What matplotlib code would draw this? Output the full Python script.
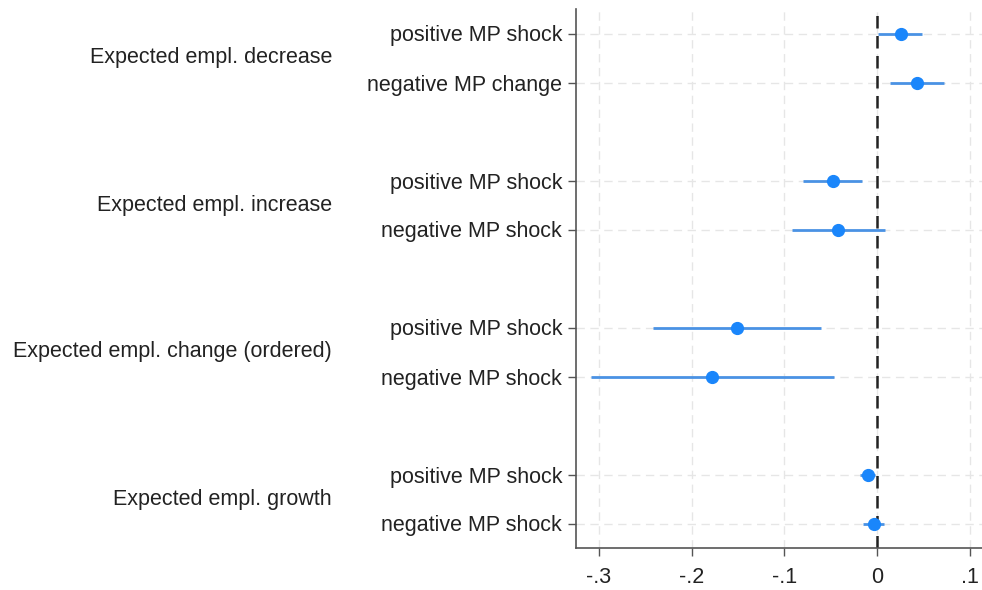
import numpy as np
import matplotlib.pyplot as plt
from matplotlib.transforms import blended_transform_factory

plt.rcParams["font.family"] = ["Liberation Sans", "DejaVu Sans"]

groups = ["Expected empl. decrease", "Expected empl. increase",
          "Expected empl. change (ordered)", "Expected empl. growth"]
row_labels = ["positive MP shock", "negative MP change",
              "positive MP shock", "negative MP shock",
              "positive MP shock", "negative MP shock",
              "positive MP shock", "negative MP shock"]
coef = [0.026, 0.043, -0.048, -0.042, -0.151, -0.178, -0.010, -0.0036]
ci_low = [0.0014, 0.014, -0.080, -0.092, -0.242, -0.309, -0.018, -0.0154]
ci_high = [0.049, 0.072, -0.016, 0.0086, -0.060, -0.046, -0.002, 0.0076]
xticks = [-0.3, -0.2, -0.1, 0, 0.1]
xticklabels = ["-.3", "-.2", "-.1", "0", ".1"]

# two rows per group, one empty row between groups
ypos = np.array([g * 3 + k for g in range(4) for k in range(2)])
group_y = [g * 3 + 0.5 for g in range(4)]

W, H = 982, 590
fig = plt.figure(figsize=(W / 100, H / 100), dpi=100)
ax = fig.add_axes([576 / W, 42 / H, (W - 576) / W, (548 - 9) / H])

grid_kw = dict(color="#e6e6e6", lw=1.0, ls=(0, (6, 4)), zorder=0)
for x in xticks:
    ax.axvline(x, **grid_kw)
for y in ypos:
    ax.axhline(y, **grid_kw)

ax.axvline(0, color="#222222", lw=1.8, ls=(0, (5, 3)), zorder=1)

ax.hlines(ypos, ci_low, ci_high, color="#4a92e4", lw=2.0, zorder=2)
ax.plot(coef, ypos, "o", color="#1a86fb", ms=8.5, zorder=3)

ax.set_xlim(-0.3248, 0.1133)
ax.set_ylim(10.5, -0.5)
ax.set_xticks(xticks)
ax.set_xticklabels(xticklabels)
ax.set_yticks(ypos)
ax.set_yticklabels(row_labels)

for s in ["top", "right"]:
    ax.spines[s].set_visible(False)
for s in ["left", "bottom"]:
    ax.spines[s].set_color("#555555")
    ax.spines[s].set_linewidth(1.2)

ax.tick_params(axis="both", labelsize=15.5, labelcolor="#222222",
               color="#555555", length=6, width=1.0)
ax.tick_params(axis="y", pad=4)
ax.tick_params(axis="x", pad=8)

trans = blended_transform_factory(fig.transFigure, ax.transData)
for name, gy in zip(groups, group_y):
    ax.text(332 / W, gy, name, transform=trans, ha="right", va="center",
            fontsize=15.5, color="#222222")

fig.savefig("out.png", dpi=100)
